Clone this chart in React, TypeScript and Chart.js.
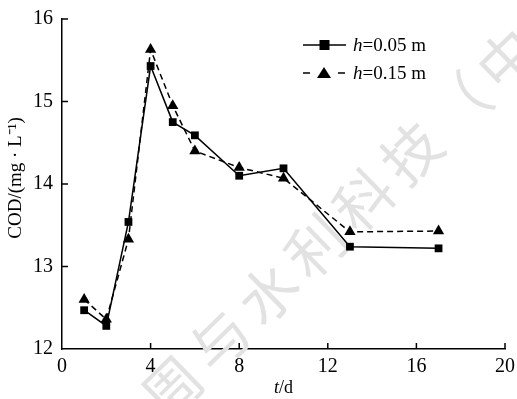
import React, { useEffect, useRef } from "react";
import { Chart, registerables } from "chart.js";

Chart.register(...registerables);

const days = [1, 2, 3, 4, 5, 6, 8, 10, 13, 17];
const codH005 = [12.47, 12.28, 13.54, 15.43, 14.75, 14.59, 14.1, 14.19, 13.24, 13.22];
const codH015 = [12.6, 12.36, 13.33, 15.63, 14.95, 14.4, 14.2, 14.07, 13.42, 13.43];
const legendValues = ["0.05", "0.15"];
const xTicks = [0, 4, 8, 12, 16, 20];
const yTicks = [12, 13, 14, 15, 16];
const watermark = "周与水利科技（中";

const SERIF = "'Liberation Serif', 'Times New Roman', serif";

const decorPlugin = {
  id: "decor",
  beforeDatasetsDraw(chart: any) {
    const ctx = chart.ctx;
    ctx.save();
    ctx.translate(172, 387);
    ctx.rotate((-44.4 * Math.PI) / 180);
    ctx.font = "58px 'Noto Sans CJK SC'";
    ctx.fillStyle = "#e2e2e2";
    ctx.textAlign = "center";
    ctx.textBaseline = "middle";
    const chars = Array.from(watermark);
    chars.forEach((c, i) => ctx.fillText(c, i * 67, 0));
    ctx.restore();
  },
  afterDraw(chart: any) {
    const ctx = chart.ctx;
    const xs = chart.scales.x;
    const ys = chart.scales.y;
    const area = chart.chartArea;
    ctx.save();
    ctx.strokeStyle = "#000";
    ctx.lineWidth = 1.5;
    // inward ticks
    xTicks.forEach((v) => {
      const px = xs.getPixelForValue(v);
      if (v === 0) return;
      ctx.beginPath();
      ctx.moveTo(px, area.bottom);
      ctx.lineTo(px, area.bottom - 6);
      ctx.stroke();
    });
    yTicks.forEach((v) => {
      const py = ys.getPixelForValue(v);
      if (v === 12) return;
      ctx.beginPath();
      ctx.moveTo(area.left, py);
      ctx.lineTo(area.left + 6, py);
      ctx.stroke();
    });

    // x title "t/d"
    ctx.fillStyle = "#000";
    ctx.textBaseline = "alphabetic";
    const cx = (area.left + area.right) / 2;
    ctx.font = `italic 18px ${SERIF}`;
    const tW = ctx.measureText("t").width;
    ctx.font = `18px ${SERIF}`;
    const dW = ctx.measureText("/d").width;
    const sx = cx - (tW + dW) / 2;
    ctx.font = `italic 18px ${SERIF}`;
    ctx.textAlign = "left";
    ctx.fillText("t", sx, 393);
    ctx.font = `18px ${SERIF}`;
    ctx.fillText("/d", sx + tW, 393);

    // y title
    ctx.save();
    ctx.translate(21, 178);
    ctx.rotate(-Math.PI / 2);
    ctx.textAlign = "center";
    ctx.font = `19px ${SERIF}`;
    ctx.fillText("COD/(mg \u00B7 L\u207B\u00B9)", 0, 0);
    ctx.restore();

    // legend
    const rows = [
      { y: 45, dashed: false },
      { y: 73, dashed: true },
    ];
    rows.forEach((r, i) => {
      ctx.strokeStyle = "#000";
      ctx.fillStyle = "#000";
      ctx.lineWidth = 1.5;
      if (r.dashed) {
        ctx.beginPath();
        ctx.moveTo(303, r.y);
        ctx.lineTo(310, r.y);
        ctx.moveTo(338, r.y);
        ctx.lineTo(345, r.y);
        ctx.stroke();
        ctx.beginPath();
        ctx.moveTo(324, r.y - 6);
        ctx.lineTo(331, r.y + 5);
        ctx.lineTo(317, r.y + 5);
        ctx.closePath();
        ctx.fill();
      } else {
        ctx.beginPath();
        ctx.moveTo(303, r.y);
        ctx.lineTo(346, r.y);
        ctx.stroke();
        ctx.fillRect(319.5, r.y - 5, 10, 10);
      }
      ctx.textAlign = "left";
      ctx.textBaseline = "alphabetic";
      ctx.font = `italic 19px ${SERIF}`;
      ctx.fillText("h", 353, r.y + 6);
      const hw = ctx.measureText("h").width;
      ctx.font = `19px ${SERIF}`;
      ctx.fillText(`=${legendValues[i]} m`, 353 + hw, r.y + 6);
    });
    ctx.restore();
  },
};

export default function App() {
  const ref = useRef<HTMLCanvasElement | null>(null);
  useEffect(() => {
    document.body.style.margin = "0";
    const canvas = ref.current;
    if (!canvas) return;
    const chart = new Chart(canvas, {
      type: "line",
      data: {
        datasets: [
          {
            label: "h=0.05 m",
            data: days.map((d, i) => ({ x: d, y: codH005[i] })),
            borderColor: "#000",
            backgroundColor: "#000",
            borderWidth: 1.5,
            pointStyle: "rect",
            pointRadius: 5.5,
            pointBorderWidth: 0,
            tension: 0,
          },
          {
            label: "h=0.15 m",
            data: days.map((d, i) => ({ x: d, y: codH015[i] })),
            borderColor: "#000",
            backgroundColor: "#000",
            borderWidth: 1.5,
            borderDash: [6, 4],
            pointStyle: "triangle",
            pointRadius: 6.5,
            pointBorderWidth: 0,
            tension: 0,
          },
        ],
      },
      options: {
        animation: false,
        responsive: true,
        maintainAspectRatio: false,
        layout: { padding: { top: 19, right: 12, left: 0, bottom: 0 } },
        plugins: {
          legend: { display: false },
          tooltip: { enabled: false },
        },
        scales: {
          x: {
            type: "linear",
            min: 0,
            max: 20,
            afterFit: (s: any) => {
              s.height = 50;
              s.paddingLeft = 0;
              s.paddingRight = 0;
            },
            afterBuildTicks: (s: any) => {
              s.ticks = xTicks.map((v) => ({ value: v }));
            },
            grid: { display: true, drawOnChartArea: false, drawTicks: false },
            border: { display: true, color: "#000", width: 1.5 },
            ticks: {
              padding: 6,
              color: "#000",
              font: { family: SERIF, size: 20 },
              maxRotation: 0,
            },
          },
          y: {
            min: 12,
            max: 16,
            afterFit: (s: any) => {
              s.width = 62;
              s.paddingTop = 0;
              s.paddingBottom = 0;
            },
            afterBuildTicks: (s: any) => {
              s.ticks = yTicks.map((v) => ({ value: v }));
            },
            grid: { display: true, drawOnChartArea: false, drawTicks: false },
            border: { display: true, color: "#000", width: 1.5 },
            ticks: {
              padding: 9,
              color: "#000",
              font: { family: SERIF, size: 20 },
            },
          },
        },
      },
      plugins: [decorPlugin],
    });
    return () => chart.destroy();
  }, []);
  return (
    <div style={{ width: 517, height: 399, position: "relative" }}>
      <canvas ref={ref} width={517} height={399} />
    </div>
  );
}
